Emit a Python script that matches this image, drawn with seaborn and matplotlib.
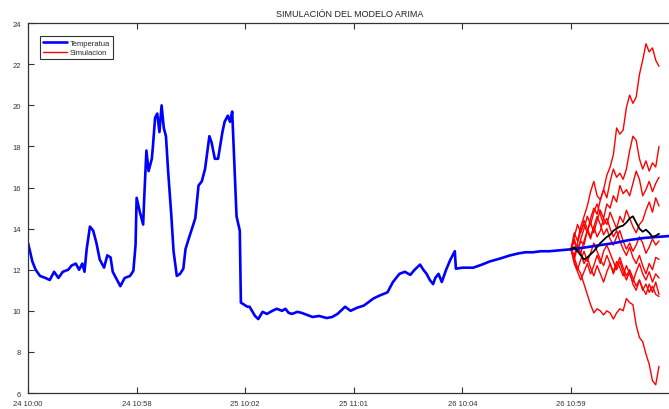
import matplotlib
matplotlib.use("Agg")
import matplotlib.pyplot as plt
import seaborn as sns
import pandas as pd
from matplotlib.lines import Line2D

# Observed temperature (sample index, value)
temp_t = [0, 4, 7, 11, 16, 20, 24, 28, 32, 37,
          40, 44, 47, 50, 52, 54, 57, 60, 63, 66,
          70, 73, 76, 78, 82, 85, 89, 94, 97, 99,
          100, 103, 106, 107, 109, 111, 114, 115, 117, 119,
          121, 123, 125, 127, 129, 132, 134, 137, 140, 143,
          145, 147, 151, 154, 157, 160, 163, 167, 169, 172,
          175, 179, 181, 184, 186, 188, 189, 192, 195, 196,
          202, 204, 209, 212, 216, 220, 225, 229, 234, 237,
          240, 243, 248, 252, 257, 262, 268, 275, 280, 285,
          288, 292, 297, 303, 309, 313, 318, 324, 331, 336,
          342, 347, 352, 356, 361, 364, 367, 370, 373, 375,
          378, 381, 385, 389, 392, 393, 394, 400, 410, 418,
          425, 435, 444, 452, 458, 465, 472, 480, 490, 501,
          515, 527, 540, 554, 568, 580, 593]
temp_v = [13.3, 12.4, 12.0, 11.7, 11.6, 11.5, 11.9, 11.6, 11.9, 12.0,
          12.2, 12.3, 12.0, 12.3, 11.9, 13.0, 14.1, 13.9, 13.3, 12.5,
          12.1, 12.7, 12.6, 11.9, 11.5, 11.2, 11.6, 11.7, 11.95, 13.2,
          15.5, 14.8, 14.2, 15.5, 17.8, 16.8, 17.4, 18.0, 19.4, 19.6,
          18.7, 20.0, 18.9, 18.5, 16.8, 14.6, 12.9, 11.7, 11.8, 12.05,
          13.0, 13.35, 14.0, 14.5, 16.1, 16.3, 16.9, 18.5, 18.2, 17.4,
          17.4, 18.7, 19.2, 19.5, 19.2, 19.7, 18.4, 14.6, 13.9, 10.4,
          10.2, 10.2, 9.75, 9.6, 9.95, 9.85, 10.0, 10.1, 10.0, 10.1,
          9.9, 9.85, 9.95, 9.9, 9.8, 9.7, 9.75, 9.65, 9.7, 9.85,
          10.0, 10.2, 10.0, 10.15, 10.25, 10.4, 10.6, 10.75, 10.9, 11.4,
          11.8, 11.9, 11.75, 12.0, 12.25, 12.0, 11.8, 11.5, 11.3, 11.6,
          11.8, 11.4, 12.0, 12.5, 12.8, 12.9, 12.05, 12.1, 12.1, 12.25,
          12.4, 12.55, 12.7, 12.8, 12.85, 12.85, 12.9, 12.9, 12.95, 13.0,
          13.1, 13.2, 13.3, 13.45, 13.55, 13.6, 13.65]

# Simulation steps
sim_t = list(range(500, 582, 3))

sim_a = [13.0, 13.8, 13.4, 14.1, 14.6, 15.1, 15.8, 16.3, 15.6, 15.4, 15.9, 16.6, 17.0, 17.6, 18.9, 18.6,
         18.8, 19.9, 20.5, 20.1, 20.4, 21.5, 22.2, 23.0, 22.6, 22.8, 22.2, 21.9]
sim_b = [13.0, 12.6, 13.3, 13.9, 14.2, 13.8, 14.5, 15.0, 14.7, 15.4, 15.9, 15.5, 16.3, 16.9, 16.5, 16.7,
         16.4, 16.9, 17.8, 18.5, 18.3, 17.4, 16.9, 17.3, 16.8, 17.2, 17.0, 18.0]
sim_c = [13.0, 13.5, 12.9, 13.4, 13.2, 13.9, 14.3, 13.8, 14.4, 14.9, 14.5, 15.2, 15.0, 15.6, 15.3, 16.1,
         15.7, 15.9, 15.6, 16.2, 16.8, 16.4, 15.6, 15.9, 16.3, 15.8, 16.2, 16.5]
sim_d = [13.0, 12.5, 13.1, 12.8, 13.4, 13.9, 13.5, 14.1, 13.6, 13.9, 14.5, 14.2, 14.8, 14.4, 14.0, 14.6,
         14.3, 14.9, 14.5, 14.1, 13.8, 14.2, 14.4, 14.9, 15.3, 14.8, 15.5, 15.1]
sim_e = [13.0, 13.6, 14.2, 13.8, 14.4, 14.0, 13.6, 14.1, 14.6, 14.2, 13.7, 14.0, 13.5, 13.2, 13.6, 13.9,
         13.4, 13.0, 13.3, 12.9, 13.2, 13.6, 13.3, 12.8, 13.1, 13.5, 13.2, 13.4]
sim_f = [13.0, 12.4, 12.0, 12.5, 12.9, 12.4, 12.8, 13.3, 12.9, 12.5, 12.2, 12.7, 12.3, 11.9, 12.4, 12.1,
         11.7, 12.2, 11.8, 11.4, 11.9, 12.3, 11.8, 11.5, 11.9, 11.4, 11.8, 11.6]
sim_g = [13.0, 12.3, 11.9, 11.5, 11.9, 12.3, 11.8, 12.2, 12.7, 12.3, 12.9, 13.2, 12.8, 12.4, 12.0, 12.4,
         11.9, 11.5, 11.9, 11.3, 11.0, 11.5, 11.1, 10.8, 11.3, 10.9, 11.4, 10.8]
sim_h = [13.0, 12.6, 12.1, 11.8, 11.3, 10.8, 10.3, 9.9, 10.1, 10.0, 9.8, 10.0, 9.9, 9.6, 9.9, 10.1,
         10.0, 10.6, 10.4, 10.3, 9.3, 8.7, 8.5, 7.9, 7.4, 6.6, 6.4, 7.3]
sim_i = [13.0, 12.7, 13.2, 12.8, 12.3, 12.6, 12.1, 11.7, 12.2, 11.8, 11.4, 11.9, 12.3, 11.8, 12.2, 12.6,
         12.1, 11.7, 12.0, 11.6, 11.2, 11.5, 11.0, 11.3, 10.9, 11.2, 10.8, 10.7]
sim_j = [13.0, 13.4, 12.9, 13.5, 14.0, 14.6, 14.2, 14.8, 15.2, 14.7, 14.2, 14.5, 14.0, 13.6, 13.9, 13.4,
         13.0, 12.7, 13.1, 12.6, 12.3, 12.7, 12.2, 11.8, 12.3, 12.0, 12.6, 12.5]
sim_mean = [13.0, 13.1, 12.9, 12.7, 12.5, 12.6, 12.75, 12.9, 13.1, 13.3, 13.45, 13.6, 13.7, 13.9, 14.0,
            14.1, 14.15, 14.3, 14.5, 14.6, 14.3, 14.0, 13.85, 13.95, 13.8, 13.6, 13.65, 13.75]

tick_pos = [0, 100, 200, 300, 400, 500]
tick_labels = ["24 10:00", "24 10:58", "25 10:02", "25 11:01", "26 10:04", "26 10:59"]

sns.set_style("ticks")
plt.rcParams['font.family'] = ['Liberation Sans', 'DejaVu Sans']

fig = plt.figure(figsize=(6.69, 4.10), dpi=100)
ax = fig.add_axes([0.0419, 0.039, 0.9626, 0.902])

sims = [sim_a, sim_b, sim_c, sim_d, sim_e, sim_f, sim_g, sim_h, sim_i, sim_j]
for s in sims:
    sns.lineplot(x=sim_t, y=s, ax=ax, color="#ff0000", linewidth=1.0, estimator=None, sort=False)

df = pd.DataFrame({"t": temp_t, "v": temp_v})
sns.lineplot(data=df, x="t", y="v", ax=ax, color="#0000ff", linewidth=1.9, estimator=None, sort=False)
sns.lineplot(x=sim_t, y=sim_mean, ax=ax, color="black", linewidth=1.3, estimator=None, sort=False)

ax.set_xlim(0, 593)
ax.set_ylim(6, 24)
ax.set_xticks(tick_pos)
ax.set_xticklabels(tick_labels)
ax.set_yticks(range(6, 25, 2))
ax.set_xlabel("")
ax.set_ylabel("")
ax.tick_params(direction="in", length=4, width=0.8, labelsize=5.5, colors="#333333", top=True)
ax.tick_params(axis="x", pad=5)
ax.tick_params(axis="y", pad=5)
for sp in ["left", "bottom", "top"]:
    ax.spines[sp].set_color("#333333")
    ax.spines[sp].set_linewidth(0.9)
ax.spines["right"].set_visible(False)

ax.set_title("SIMULACIÓN DEL MODELO ARIMA", fontsize=6.5, pad=5, color="#222222")

handles = [Line2D([0], [0], color="#0000ff", lw=1.9),
           Line2D([0], [0], color="#ff0000", lw=1.0)]
leg = ax.legend(handles, ["Temperatua", "Simulacion"], loc="upper left", fontsize=5.5,
                frameon=True, fancybox=False, edgecolor="#333333", framealpha=1,
                handlelength=3.2, handletextpad=0.3, borderpad=0.4, labelspacing=0.3,
                bbox_to_anchor=(0.012, 0.975))
leg.get_frame().set_linewidth(0.8)

fig.savefig("out.png", dpi=100)
